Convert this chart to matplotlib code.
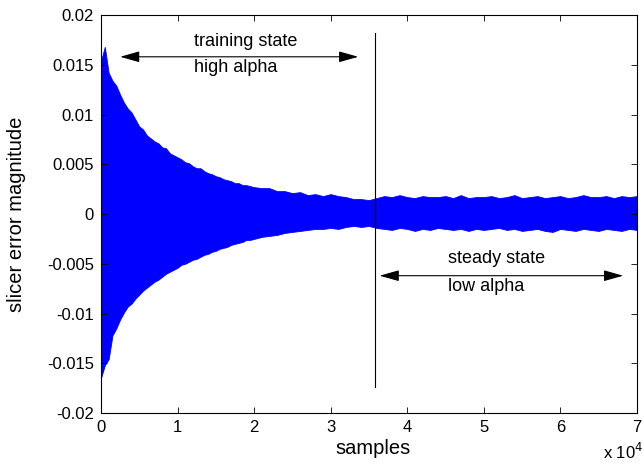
import numpy as np
import matplotlib
matplotlib.use("Agg")
import matplotlib.pyplot as plt

plt.rcParams['font.family'] = ['Liberation Sans', 'DejaVu Sans']

# sample positions of the envelope readings
samples = np.concatenate([np.arange(0, 20000, 500), np.arange(20000, 70001, 1000)])

# upper envelope of the slicer error (x 1e-3)
upper = [15.4, 16.8, 14.2, 13.4, 12.9, 12.0, 11.2, 10.6, 10.2, 9.5,
         8.8, 8.5, 7.9, 7.6, 7.3, 7.1, 6.7, 6.6, 6.1, 5.9,
         5.7, 5.5, 5.2, 5.1, 4.8, 4.6, 4.6, 4.3, 4.1, 4.0,
         3.8, 3.7, 3.5, 3.4, 3.3, 3.1, 3.1, 2.9, 2.9, 2.8,
         2.7, 2.6, 2.6, 2.3, 2.3, 2.1, 2.2, 1.9, 2.0, 1.8,
         2.0, 1.8, 1.7, 1.5, 1.5, 1.4, 1.6, 1.8, 1.7, 1.9,
         1.7, 1.6, 1.8, 1.7, 1.7, 1.8, 1.6, 1.9, 1.6, 1.7,
         1.7, 1.8, 1.6, 1.7, 1.9, 1.6, 1.7, 1.8, 1.6, 1.7,
         1.8, 1.6, 1.7, 1.9, 1.7, 1.7, 1.8, 1.6, 1.8, 1.7, 1.8]

# lower envelope magnitude (x 1e-3)
lower = [16.5, 15.2, 14.6, 12.2, 11.5, 10.6, 9.9, 9.3, 9.0, 8.5,
         8.1, 7.7, 7.4, 7.1, 6.8, 6.6, 6.3, 6.0, 5.8, 5.6,
         5.4, 5.1, 5.0, 4.8, 4.6, 4.5, 4.3, 4.1, 4.0, 3.8,
         3.7, 3.5, 3.4, 3.3, 3.1, 3.0, 2.9, 2.8, 2.6, 2.6,
         2.5, 2.3, 2.2, 2.1, 1.9, 1.8, 1.7, 1.6, 1.5, 1.5,
         1.4, 1.5, 1.3, 1.2, 1.3, 1.2, 1.4, 1.5, 1.6, 1.4,
         1.5, 1.7, 1.5, 1.6, 1.4, 1.5, 1.6, 1.5, 1.7, 1.5,
         1.6, 1.5, 1.4, 1.6, 1.5, 1.7, 1.6, 1.5, 1.7, 1.8,
         1.5, 1.6, 1.7, 1.5, 1.6, 1.7, 1.5, 1.6, 1.7, 1.5, 1.6]

upper = np.array(upper) * 1e-3
lower = -np.array(lower) * 1e-3

switch_sample = 35800

fig = plt.figure(figsize=(6.44, 4.66), dpi=100)
ax = fig.add_axes([0.1568, 0.1137, 0.8322, 0.8541])

ax.fill_between(samples, lower, upper, color='#0000ff', lw=0.6, edgecolor='#0000ff')
ax.plot([switch_sample, switch_sample], [-0.0174, 0.0182], color='k', lw=0.8)

# double headed arrows for the two phases
arrow = dict(arrowstyle='<|-|>,head_length=0.85,head_width=0.24', color='k', lw=0.8,
             mutation_scale=14, shrinkA=0, shrinkB=0)
ax.annotate('', xy=(2500, 0.0158), xytext=(33600, 0.0158), arrowprops=arrow)
ax.annotate('', xy=(36400, -0.0062), xytext=(68200, -0.0062), arrowprops=arrow)
ax.text(12150, 0.0173, 'training state', fontsize=13, va='center', ha='left')
ax.text(12150, 0.0147, 'high alpha', fontsize=13, va='center', ha='left')
ax.text(45300, -0.0045, 'steady state', fontsize=13, va='center', ha='left')
ax.text(45300, -0.0073, 'low alpha', fontsize=13, va='center', ha='left')

ax.set_xlim(0, 70000)
ax.set_ylim(-0.02, 0.02)
ax.set_xticks(np.arange(0, 70001, 10000))
ax.set_xticklabels([str(i) for i in range(8)])
yt = [-0.02, -0.015, -0.01, -0.005, 0, 0.005, 0.01, 0.015, 0.02]
ax.set_yticks(yt)
ax.set_yticklabels(['-0.02', '-0.015', '-0.01', '-0.005', '0', '0.005', '0.01', '0.015', '0.02'])
ax.tick_params(direction='in', top=True, right=True, labelsize=12, length=4, width=0.6, pad=5)
for s in ax.spines.values():
    s.set_linewidth(0.8)

ax.set_xlabel('samples', fontsize=14.5)
ax.set_ylabel('slicer error magnitude', fontsize=14.5)
ax.xaxis.set_label_coords(0.507, -0.065)
ax.yaxis.set_label_coords(-0.14, 0.5)
fig.text(0.936, 0.008, r'x 10$^4$', fontsize=12, ha='left', va='bottom')

fig.savefig('out.png', dpi=100)
